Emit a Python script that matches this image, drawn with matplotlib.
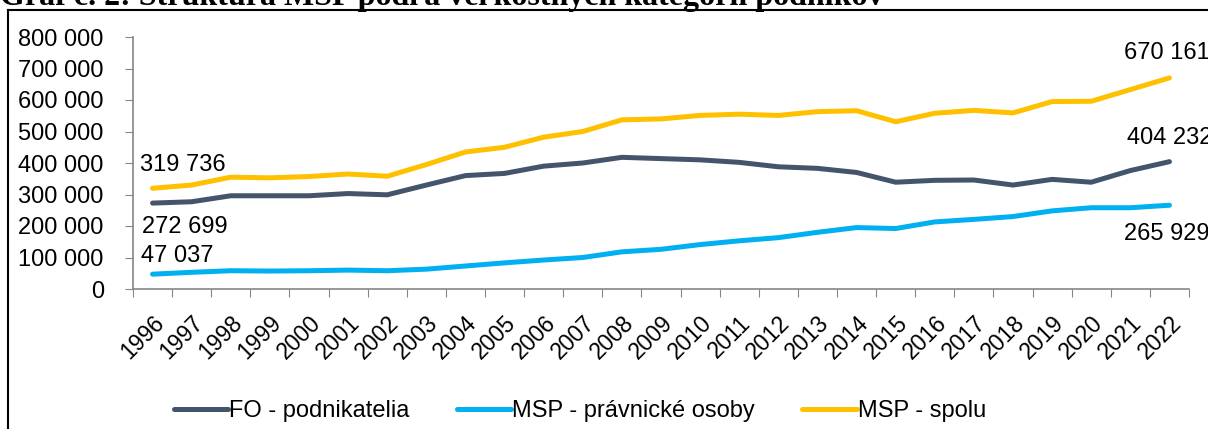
import matplotlib.pyplot as plt
from matplotlib.lines import Line2D
from matplotlib.ticker import FuncFormatter
from matplotlib.transforms import ScaledTranslation

plt.rcParams['font.family'] = ['Liberation Sans', 'DejaVu Sans']

years = [str(y) for y in range(1996, 2023)]

fo_podnikatelia = [272699, 277000, 296000, 296000, 296000, 303000, 299000, 330000,
                   360000, 367000, 390000, 400000, 418000, 414000, 410000, 402000,
                   388000, 383000, 370000, 339000, 345000, 346000, 330000, 348000,
                   339000, 376000, 404232]
msp_pravnicke = [47037, 53000, 58000, 57000, 58000, 60000, 58000, 63000,
                 73000, 83000, 92000, 100000, 118000, 126000, 141000, 153000,
                 163000, 180000, 195000, 192000, 213000, 221000, 230000, 248000,
                 258000, 258000, 265929]
msp_spolu = [319736, 330000, 355000, 353000, 357000, 365000, 358000, 395000,
             435000, 450000, 482000, 500000, 537000, 540000, 551000, 555000,
             551000, 563000, 566000, 531000, 558000, 567000, 559000, 595000,
             596000, 633000, 670161]

series = [
    ('FO - podnikatelia', fo_podnikatelia, '#44546A'),
    ('MSP - právnické osoby', msp_pravnicke, '#00B0F0'),
    ('MSP - spolu', msp_spolu, '#FFC000'),
]

W, H = 1208, 429
FS = 17
fig = plt.figure(figsize=(W / 100, H / 100), dpi=100)
ax = fig.add_axes([133 / W, 1 - 289 / H, (1189 - 133) / W, (289 - 37) / H])

x = list(range(len(years)))
for name, vals, col in series:
    ax.plot(x, vals, color=col, lw=3.6, solid_capstyle='round',
            solid_joinstyle='round', label=name)

ax.set_xlim(-0.5, len(years) - 0.5)
ax.set_ylim(0, 800000)
ax.set_yticks(range(0, 800001, 100000))
ax.yaxis.set_major_formatter(FuncFormatter(lambda v, p: f'{int(v):,}'.replace(',', ' ')))
ax.set_xticks([i - 0.5 for i in range(len(years) + 1)], minor=False)
ax.set_xticklabels([])
ax.set_xticks(x, minor=True)
ax.set_xticklabels(years, minor=True, rotation=45, ha='right',
                   rotation_mode='anchor', fontsize=16.5)
shift = ScaledTranslation(6 / 100, 0, fig.dpi_scale_trans)
for lab in ax.get_xticklabels(minor=True):
    lab.set_transform(lab.get_transform() + shift)
ax.tick_params(axis='x', which='minor', length=0, pad=16)
ax.tick_params(axis='x', which='major', length=6, color='#868686', direction='out')
ax.tick_params(axis='y', length=6, color='#868686', labelsize=FS, pad=15)

for s in ['top', 'right']:
    ax.spines[s].set_visible(False)
for s in ['left', 'bottom']:
    ax.spines[s].set_color('#868686')
    ax.spines[s].set_linewidth(1.2)

# data labels at first and last points
def label(i, vals, dx, dy):
    ax.annotate(f'{vals[i]:,}'.replace(',', ' '), (x[i], vals[i]),
                xytext=(dx * 0.72, dy * 0.72), textcoords='offset points',
                ha='left', va='center', fontsize=FS, annotation_clip=False)

label(0, msp_spolu, -13, 23)
label(0, fo_podnikatelia, -11, -24)
label(0, msp_pravnicke, -12, 18)
label(-1, msp_spolu, -45, 25)
label(-1, fo_podnikatelia, -42, 24)
label(-1, msp_pravnicke, -45, -29)

handles = [Line2D([], [], color=c, lw=3.6, solid_capstyle='round') for _, _, c in series]
fig.legend(handles, [n for n, _, _ in series], loc='center',
           bbox_to_anchor=(580 / W, 1 - 411 / H), ncol=3, frameon=False,
           fontsize=FS, handlelength=2.3, handletextpad=0.05, columnspacing=2.0)

# chart frame (left and top edges visible)
fig.add_artist(Line2D([8 / W, 8 / W], [0, 1 - 10 / H], color='black', lw=1.5,
                      transform=fig.transFigure))
fig.add_artist(Line2D([8 / W, 1], [1 - 10 / H, 1 - 10 / H], color='black', lw=1.5,
                      transform=fig.transFigure))

# title cut off at the top of the image
fig.text(0.0, 1 - 5 / H, 'Graf č. 2: Štruktúra MSP podľa veľkostných kategórií podnikov',
         family=['Liberation Serif', 'DejaVu Serif'], weight='bold', fontsize=23,
         ha='left', va='baseline')

fig.savefig('out.png', dpi=100)
